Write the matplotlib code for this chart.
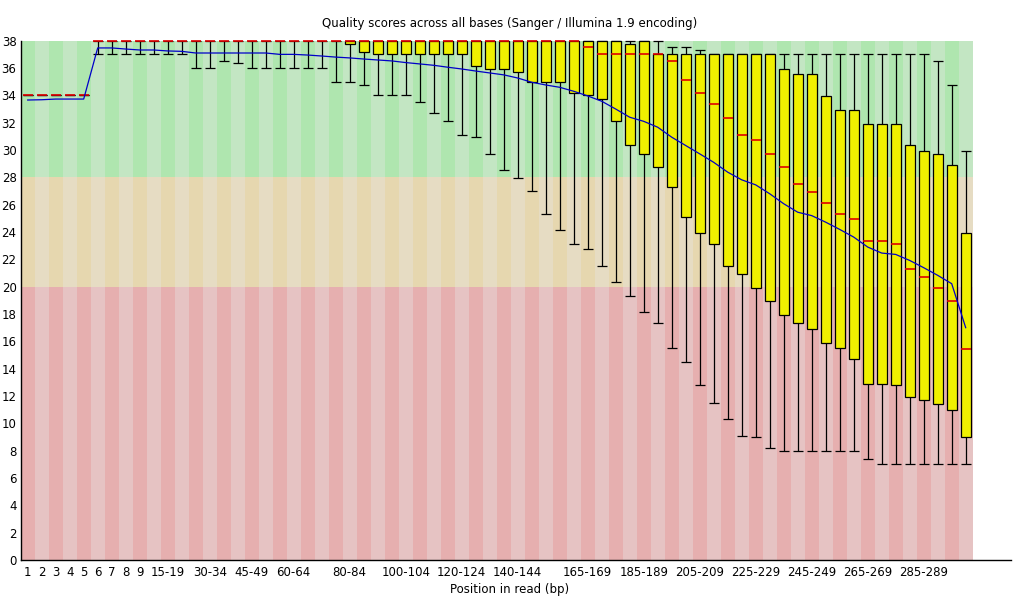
import matplotlib
matplotlib.use("Agg")
import matplotlib.pyplot as plt

positions = [str(i) for i in range(1, 10)] + \
    [f"{s}-{s + 4}" for s in range(10, 300, 5)] + ["300-301"]

shown_labels = ["1", "2", "3", "4", "5", "6", "7", "8", "9", "15-19", "30-34",
                "45-49", "60-64", "80-84", "100-104", "120-124", "140-144",
                "165-169", "185-189", "205-209", "225-229", "245-249",
                "265-269", "285-289"]

mean_q = [33.66, 33.68, 33.73, 33.73, 33.73, 37.47, 37.47, 37.39, 37.32, 37.32,
          37.25, 37.22, 37.1, 37.1, 37.1, 37.1, 37.1, 37.1, 37.0, 37.0,
          36.95, 36.88, 36.8, 36.74, 36.66, 36.59, 36.52, 36.4, 36.3, 36.2,
          36.06, 35.93, 35.78, 35.64, 35.5, 35.27, 34.96, 34.76, 34.59, 34.3,
          33.96, 33.57, 33.0, 32.4, 32.1, 31.67, 30.94, 30.33, 29.72, 29.1,
          28.38, 27.82, 27.45, 26.8, 26.07, 25.45, 25.2, 24.72, 24.19, 23.63,
          22.9, 22.46, 22.36, 21.92, 21.39, 20.83, 20.22, 17.0]

median_q = [34] * 5 + [38] * 35 + \
    [37.54, 37, 37, 37, 37, 37, 36.52, 35.13, 34.18, 33.37,
     32.35, 31.1, 30.74, 29.72, 28.77, 27.53, 26.94, 26.14, 25.34, 24.97,
     23.36, 23.36, 23.14, 21.32, 20.73, 19.93, 18.98, 15.47]

upper_quart = [34] * 5 + [38] * 38 + \
    [37.76, 38, 37, 37, 37, 37, 37, 37, 37, 37, 37,
     35.93, 35.57, 35.57, 33.96, 32.93, 32.93, 31.91, 31.91, 31.91,
     30.38, 29.94, 29.72, 28.92, 23.95]

lower_quart = [34] * 5 + [38] * 18 + \
    [37.76, 37.17, 37, 37, 37, 37, 37, 37, 37, 36.15,
     35.93, 35.93, 35.71, 35, 35, 35, 34.18, 34, 33.74, 32.13,
     30.38, 29.72, 28.77, 27.31, 25.12, 23.95, 23.14, 21.54, 20.95, 19.93,
     18.98, 17.96, 17.37, 16.93, 15.91, 15.54, 14.74, 12.91, 12.91, 12.77,
     11.96, 11.74, 11.38, 10.94, 8.97]

upper_whisk = [34] * 5 + [38] * 41 + \
    [37.54, 37.54, 37.32] + [37] * 16 + [36.52, 34.76, 29.94]

lower_whisk = [34] * 5 + [37] * 7 + \
    [36, 36, 36.5, 36.37, 36, 36, 36, 36, 36, 36,
     35, 35, 34.76, 34, 34, 34, 33.52, 32.7, 32.13, 31.1,
     30.96, 29.72, 28.55, 27.97, 27, 25.34, 24.17, 23.14, 22.78, 21.54,
     20.37, 19.34, 18.17, 17.37, 15.54, 14.52, 12.77, 11.52, 10.35, 9.11,
     8.97, 8.16, 8, 8, 8, 8, 8, 8, 7.36, 7, 7, 7, 7, 7, 7, 7]

# quality zones: (low, high, even-column colour, odd-column colour)
zones = [(28, 38, "#afe6af", "#c3e6c3"),
         (20, 28, "#e6d7af", "#e6dcc3"),
         (0, 20, "#e6afaf", "#e6c3c3")]

n = len(positions)
xc = [i + 0.5 for i in range(n)]

fig = plt.figure(figsize=(10.2, 6.0), dpi=100)
ax = fig.add_axes([20.7 / 1020, 40 / 600, (1011 - 20.7) / 1020, (560 - 40.7) / 600])

# ================= BACKGROUND =================
for lo, hi, c_even, c_odd in zones:
    cols = [c_even if i % 2 == 0 else c_odd for i in range(n)]
    ax.bar(xc, hi - lo, bottom=lo, width=1.0, color=cols, linewidth=0, zorder=0)

# ================= BOXES =================
box_w = 0.74
left = [x - box_w / 2 for x in xc]
right = [x + box_w / 2 for x in xc]
ax.vlines(xc, upper_quart, upper_whisk, color="black", lw=0.9, zorder=2)
ax.vlines(xc, lower_whisk, lower_quart, color="black", lw=0.9, zorder=2)
ax.hlines(upper_whisk, left, right, color="black", lw=0.9, zorder=2, clip_on=False)
ax.hlines(lower_whisk, left, right, color="black", lw=0.9, zorder=2)
heights = [u - l for u, l in zip(upper_quart, lower_quart)]
ax.bar(xc, heights, bottom=lower_quart, width=box_w, color="#f0f000",
       edgecolor="black", linewidth=[0.9 if h > 0 else 0 for h in heights],
       zorder=3, clip_on=False)
ax.hlines(median_q, left, right, color="#e00000", lw=1.2, zorder=4, clip_on=False)

# ================= MEAN LINE =================
ax.plot(xc, mean_q, color="#0000c8", lw=0.9, zorder=5)

# ================= AXES =================
ax.set_xlim(0, (1011 - 20.7) / 14)
ax.set_ylim(0, 38)
ax.set_yticks(range(0, 39, 2))
ax.set_xticks([xc[positions.index(p)] for p in shown_labels])
ax.set_xticklabels(shown_labels)
ax.tick_params(length=0, labelsize=8.5, pad=4)
ax.tick_params(axis="y", pad=3)
for s in ["top", "right"]:
    ax.spines[s].set_visible(False)
for s in ["left", "bottom"]:
    ax.spines[s].set_linewidth(1.0)
ax.set_facecolor("white")

fig.text(0.5, 1 - 24 / 600, "Quality scores across all bases (Sanger / Illumina 1.9 encoding)",
         ha="center", va="center", fontsize=8.5)
fig.text(0.5, 1 - 590 / 600, "Position in read (bp)", ha="center", va="center", fontsize=8.5)

fig.savefig("out.png", dpi=100)
